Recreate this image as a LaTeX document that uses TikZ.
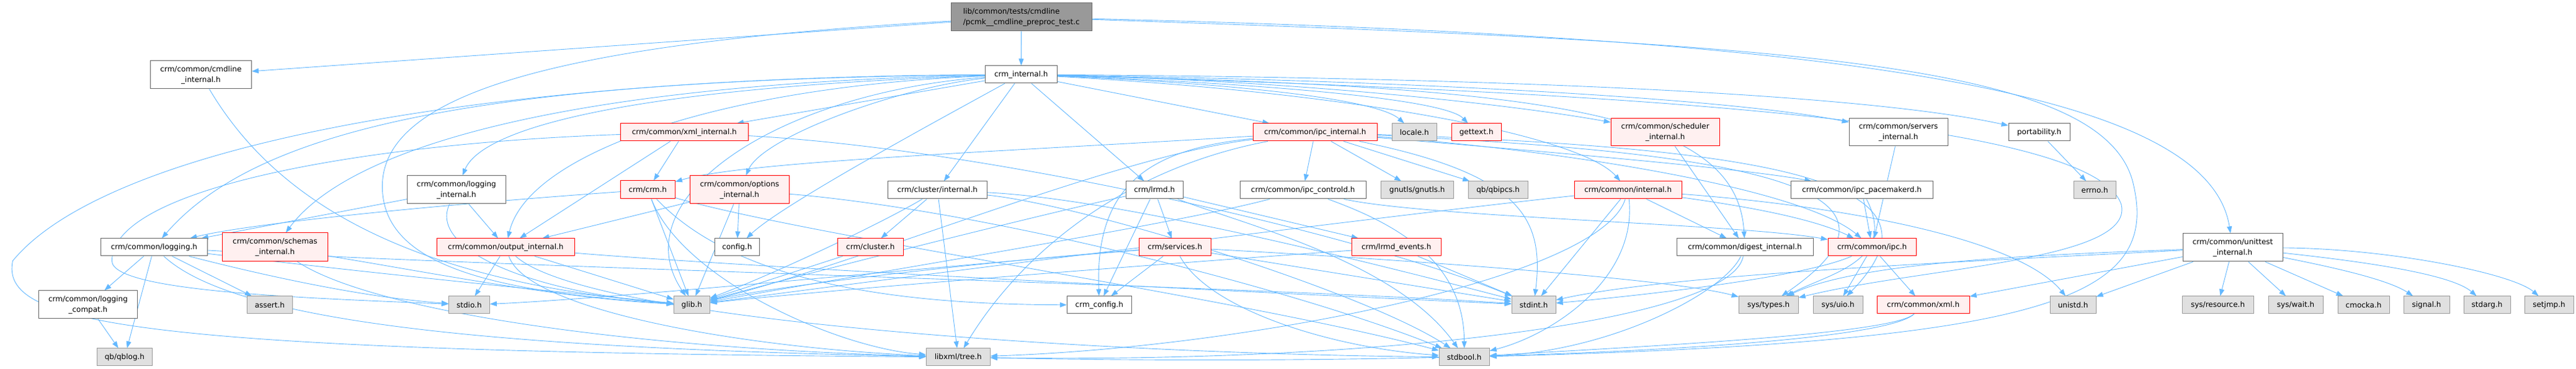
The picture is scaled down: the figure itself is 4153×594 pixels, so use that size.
\documentclass[tikz,border=0pt]{standalone}
\usepackage{fontspec}
\setmainfont{DejaVu Sans}
\usetikzlibrary{arrows.meta}
\pgfdeclarelayer{bg}
\pgfdeclarelayer{paper}
\pgfsetlayers{paper,bg,main}
\definecolor{edgec}{HTML}{63B8FF}
\definecolor{redfill}{HTML}{FFF0F0}
\definecolor{grayfill}{HTML}{E0E0E0}
\definecolor{grayline}{HTML}{999999}
\definecolor{normline}{HTML}{666666}
\tikzset{
  base/.style={rectangle, inner sep=1pt, align=center, font=\fontsize{12}{17}\selectfont, line width=1pt, text=black},
  nrm/.style={base, draw=normline, fill=white},
  hot/.style={base, draw=red, fill=redfill},
  sys/.style={base, draw=grayline, fill=grayfill},
  root/.style={base, align=left, draw=normline, fill=grayline},
  e/.style={draw=edgec, line width=0.9pt, -{Triangle[length=11pt,width=8pt]}},
}
\newcommand{\nd}[7]{\node[#1, minimum width={(#5-(#3))*1pt}, minimum height={(#6-(#4))*1pt}] (#2) at ({(#3+#5)/2},{(#4+#6)/2}) {#7};}
\begin{document}
\begin{tikzpicture}[x=1pt,y=-1pt]
\begin{pgfonlayer}{paper}
\path[use as bounding box, fill=white] (0,0) rectangle (4153,594);
\end{pgfonlayer}
\nd{root}{T}{1533}{5}{1760}{50}{lib/common/tests/cmdline\\/pcmk\_\_cmdline\_preproc\_test.c}
\nd{nrm}{CI}{1588}{106}{1704}{134}{crm\_internal.h}
\nd{nrm}{CMD}{242}{98}{405}{143}{crm/common/cmdline\\\_internal.h}
\nd{nrm}{UT}{3519}{376}{3680}{421}{crm/common/unittest\\\_internal.h}
\nd{hot}{XMLI}{1000}{199}{1206}{227}{crm/common/xml\_internal.h}
\nd{nrm}{LOGI}{656}{283}{815}{328}{crm/common/logging\\\_internal.h}
\nd{hot}{CRM}{1000}{291}{1088}{320}{crm/crm.h}
\nd{hot}{OPTI}{1112}{283}{1272}{328}{crm/common/options\\\_internal.h}
\nd{nrm}{LOG}{162}{384}{334}{412}{crm/common/logging.h}
\nd{hot}{SCHEMA}{358}{375}{528}{421}{crm/common/schemas\\\_internal.h}
\nd{hot}{OUT}{704}{384}{926}{412}{crm/common/output\_internal.h}
\nd{nrm}{CONFIG}{1152}{384}{1224}{412}{config.h}
\nd{nrm}{LOGC}{62}{468}{221}{513}{crm/common/logging\\\_compat.h}
\nd{sys}{ASSERT}{398}{477}{471}{505}{assert.h}
\nd{sys}{STDIO}{723}{477}{789}{505}{stdio.h}
\nd{sys}{GLIB}{1086}{477}{1144}{505}{glib.h}
\nd{sys}{QBLOG}{156}{561}{245}{589}{qb/qblog.h}
\nd{nrm}{CLI}{1431}{292}{1591}{320}{crm/cluster/internal.h}
\nd{nrm}{LRMD}{1815}{292}{1907}{320}{crm/lrmd.h}
\nd{hot}{IPCI}{2020}{199}{2220}{227}{crm/common/ipc\_internal.h}
\nd{sys}{LOCALE}{2244}{199}{2316}{227}{locale.h}
\nd{hot}{GETTEXT}{2340}{199}{2420}{227}{gettext.h}
\nd{hot}{SCHED}{2597}{191}{2772}{235}{crm/common/scheduler\\\_internal.h}
\nd{nrm}{SERV}{2981}{191}{3140}{235}{crm/common/servers\\\_internal.h}
\nd{nrm}{PORT}{3238}{199}{3337}{227}{portability.h}
\nd{nrm}{IPCC}{1999}{292}{2202}{320}{crm/common/ipc\_controld.h}
\nd{sys}{GNUTLS}{2226}{292}{2343}{320}{gnutls/gnutls.h}
\nd{sys}{QBIPCS}{2367}{292}{2463}{320}{qb/qbipcs.h}
\nd{hot}{CINT}{2538}{292}{2711}{320}{crm/common/internal.h}
\nd{nrm}{IPCP}{2887}{292}{3116}{320}{crm/common/ipc\_pacemakerd.h}
\nd{sys}{ERRNO}{3343}{292}{3411}{320}{errno.h}
\nd{hot}{CLUSTER}{1350}{384}{1456}{412}{crm/cluster.h}
\nd{hot}{SERVICES}{1836}{384}{1952}{412}{crm/services.h}
\nd{hot}{LRMDE}{2179}{384}{2323}{412}{crm/lrmd\_events.h}
\nd{nrm}{DIGEST}{2703}{384}{2923}{412}{crm/common/digest\_internal.h}
\nd{hot}{IPC}{2947}{384}{3089}{412}{crm/common/ipc.h}
\nd{nrm}{CRMCFG}{1720}{477}{1824}{505}{crm\_config.h}
\nd{sys}{STDINT}{2437}{477}{2508}{505}{stdint.h}
\nd{sys}{SYSTYPES}{2803}{477}{2899}{505}{sys/types.h}
\nd{sys}{SYSUIO}{2923}{477}{3003}{505}{sys/uio.h}
\nd{hot}{XML}{3026}{477}{3175}{505}{crm/common/xml.h}
\nd{sys}{UNISTD}{3305}{477}{3379}{505}{unistd.h}
\nd{sys}{SYSRES}{3518}{477}{3633}{505}{sys/resource.h}
\nd{sys}{SYSWAIT}{3657}{477}{3745}{505}{sys/wait.h}
\nd{sys}{CMOCKA}{3769}{477}{3852}{505}{cmocka.h}
\nd{sys}{SIGNAL}{3875}{477}{3949}{505}{signal.h}
\nd{sys}{STDARG}{3972}{477}{4047}{505}{stdarg.h}
\nd{sys}{SETJMP}{4070}{477}{4149}{505}{setjmp.h}
\nd{sys}{LIBXML}{1493}{561}{1596}{589}{libxml/tree.h}
\nd{sys}{STDBOOL}{2320}{561}{2401}{589}{stdbool.h}
\begin{pgfonlayer}{bg}
% root
\draw[e] (T) -- (CI);
\draw[e] (T) -- (CMD);
\draw[e] (T) .. controls (3000,60) and (3560,150) .. (UT);
\draw[e] (T) .. controls (900,70) and (616,150) .. (616,300) .. controls (616,430) and (800,470) .. (GLIB);
\draw[e] (T) .. controls (2900,70) and (3400,100) .. (3440,300) .. controls (3480,480) and (3300,550) .. (STDBOOL);
\draw[e] (CMD) .. controls (430,300) and (620,450) .. (GLIB);
% crm_internal.h
\draw[e] (CI) .. controls (700,125) and (160,250) .. (20,420) .. controls (0,520) and (200,565) .. (LIBXML);
\draw[e] (CI) .. controls (800,128) and (420,200) .. (LOG);
\draw[e] (CI) .. controls (900,135) and (560,240) .. (SCHEMA);
\draw[e] (CI) .. controls (1050,140) and (780,200) .. (LOGI);
\draw[e] (CI) .. controls (1150,140) and (850,250) .. (OUT);
\draw[e] (CI) .. controls (1250,150) and (1000,320) .. (GLIB);
\draw[e] (CI) .. controls (1450,140) and (1230,220) .. (OPTI);
\draw[e] (CI) -- (XMLI);
\draw[e] (CI) .. controls (1500,200) and (1260,330) .. (CONFIG);
\draw[e] (CI) -- (CLI);
\draw[e] (CI) -- (LRMD);
\draw[e] (CI) -- (IPCI);
\draw[e] (CI) .. controls (2000,135) and (2220,160) .. (LOCALE);
\draw[e] (CI) .. controls (2050,135) and (2330,160) .. (GETTEXT);
\draw[e] (CI) .. controls (2100,130) and (2450,170) .. (SCHED);
\draw[e] (CI) .. controls (2300,130) and (2800,160) .. (SERV);
\draw[e] (CI) .. controls (2400,125) and (3000,150) .. (PORT);
\draw[e] (CI) .. controls (2200,150) and (2550,220) .. (CINT);
\draw[e] (CI) .. controls (2500,140) and (2800,180) .. (DIGEST);
\draw[e] (CI) .. controls (2700,150) and (3380,200) .. (3420,330) .. controls (3440,420) and (3100,430) .. (SYSTYPES);
% ipc_internal.h
\draw[e] (IPCI) -- (IPCC);
\draw[e] (IPCI) -- (GNUTLS);
\draw[e] (IPCI) -- (QBIPCS);
\draw[e] (IPCI) .. controls (2500,245) and (2800,270) .. (IPCP);
\draw[e] (IPCI) .. controls (2500,240) and (2900,300) .. (IPC);
\draw[e] (IPCI) .. controls (2450,280) and (2490,350) .. (STDINT);
\draw[e] (IPCI) .. controls (1850,240) and (1765,300) .. (CRMCFG);
\draw[e] (IPCI) .. controls (1800,250) and (1400,420) .. (GLIB);
\draw[e] (IPCI) .. controls (1820,270) and (1650,400) .. (LIBXML);
\draw[e] (IPCI) .. controls (1600,245) and (1200,260) .. (CRM);
\draw[e] (IPCI) .. controls (2900,240) and (3150,300) .. (SYSUIO);
\draw[e] (IPCI) .. controls (2800,245) and (3130,300) .. (SYSTYPES);
% crm/common/internal.h
\draw[e] (CINT) -- (DIGEST);
\draw[e] (CINT) -- (STDINT);
\draw[e] (CINT) .. controls (2640,450) and (2500,540) .. (STDBOOL);
\draw[e] (CINT) .. controls (2300,340) and (1500,440) .. (GLIB);
\draw[e] (CINT) .. controls (2580,450) and (2000,560) .. (LIBXML);
\draw[e] (CINT) .. controls (2950,330) and (3250,380) .. (UNISTD);
\draw[e] (CINT) .. controls (2800,330) and (2920,350) .. (IPC);
\draw[e] (SCHED) -- (DIGEST);
\draw[e] (SERV) -- (IPC);
\draw[e] (PORT) -- (ERRNO);
\draw[e] (IPCP) -- (IPC);
\draw[e] (IPCP) .. controls (3060,420) and (2950,440) .. (SYSTYPES);
\draw[e] (DIGEST) .. controls (2780,470) and (2600,565) .. (STDBOOL);
\draw[e] (DIGEST) .. controls (2790,520) and (2200,585) .. (LIBXML);
\draw[e] (IPC) .. controls (2900,450) and (2600,480) .. (STDINT);
\draw[e] (IPC) -- (SYSUIO);
\draw[e] (IPC) -- (XML);
\draw[e] (XML) .. controls (3050,540) and (2600,560) .. (STDBOOL);
\draw[e] (XML) .. controls (3030,560) and (2300,590) .. (LIBXML);
% unittest
\draw[e] (UT) .. controls (3300,410) and (3000,420) .. (SYSTYPES);
\draw[e] (UT) .. controls (3200,420) and (2700,440) .. (STDINT);
\draw[e] (UT) -- (XML);
\draw[e] (UT) -- (UNISTD);
\draw[e] (UT) -- (SYSRES);
\draw[e] (UT) -- (SYSWAIT);
\draw[e] (UT) -- (CMOCKA);
\draw[e] (UT) .. controls (3760,430) and (3850,450) .. (SIGNAL);
\draw[e] (UT) .. controls (3800,420) and (3950,440) .. (STDARG);
\draw[e] (UT) .. controls (3850,400) and (4050,440) .. (SETJMP);
% lrmd
\draw[e] (LRMD) -- (SERVICES);
\draw[e] (LRMD) -- (LRMDE);
\draw[e] (LRMD) -- (CRMCFG);
\draw[e] (LRMD) .. controls (1700,340) and (1300,440) .. (GLIB);
\draw[e] (LRMD) .. controls (2000,360) and (2250,420) .. (STDBOOL);
\draw[e] (SERVICES) .. controls (1600,420) and (1250,460) .. (GLIB);
\draw[e] (SERVICES) .. controls (1500,430) and (1000,480) .. (STDIO);
\draw[e] (SERVICES) -- (CRMCFG);
\draw[e] (SERVICES) -- (STDINT);
\draw[e] (SERVICES) .. controls (1950,500) and (2150,560) .. (STDBOOL);
\draw[e] (SERVICES) .. controls (2300,420) and (2700,450) .. (SYSTYPES);
\draw[e] (LRMDE) .. controls (1800,430) and (1300,470) .. (GLIB);
\draw[e] (LRMDE) -- (STDINT);
% cluster
\draw[e] (CLI) -- (CLUSTER);
\draw[e] (CLI) -- (LIBXML);
\draw[e] (CLI) .. controls (1420,360) and (1250,440) .. (GLIB);
\draw[e] (CLI) .. controls (1800,320) and (2200,420) .. (STDINT);
\draw[e] (CLI) .. controls (1750,330) and (2200,470) .. (STDBOOL);
\draw[e] (CLUSTER) -- (GLIB);
% crm.h
\draw[e] (CRM) .. controls (700,330) and (400,360) .. (LOG);
\draw[e] (CRM) -- (GLIB);
\draw[e] (CRM) .. controls (1200,470) and (1500,490) .. (CRMCFG);
\draw[e] (CRM) .. controls (1100,450) and (1350,560) .. (LIBXML);
\draw[e] (CRM) .. controls (1300,380) and (2000,480) .. (STDBOOL);
% options
\draw[e] (OPTI) -- (CONFIG);
\draw[e] (OPTI) -- (GLIB);
\draw[e] (OPTI) -- (OUT);
\draw[e] (OPTI) .. controls (1600,340) and (2100,470) .. (STDBOOL);
% xml_internal
\draw[e] (XMLI) -- (CRM);
\draw[e] (XMLI) -- (OUT);
\draw[e] (XMLI) .. controls (600,230) and (180,300) .. (180,420) .. controls (180,470) and (500,480) .. (STDIO);
\draw[e] (XMLI) .. controls (1600,240) and (2200,380) .. (STDINT);
% logging_internal
\draw[e] (LOGI) -- (LOG);
\draw[e] (LOGI) -- (OUT);
\draw[e] (LOGI) .. controls (690,400) and (850,470) .. (GLIB);
% logging
\draw[e] (LOG) -- (LOGC);
\draw[e] (LOG) -- (QBLOG);
\draw[e] (LOG) -- (ASSERT);
\draw[e] (LOG) .. controls (450,450) and (600,480) .. (STDIO);
\draw[e] (LOG) .. controls (600,440) and (900,470) .. (GLIB);
\draw[e] (LOG) .. controls (800,430) and (2000,460) .. (STDINT);
\draw[e] (LOG) .. controls (380,520) and (800,560) .. (LIBXML);
\draw[e] (LOGC) -- (QBLOG);
% schemas
\draw[e] (SCHEMA) .. controls (700,440) and (900,480) .. (GLIB);
\draw[e] (SCHEMA) .. controls (600,500) and (1000,560) .. (LIBXML);
% output
\draw[e] (OUT) -- (STDIO);
\draw[e] (OUT) -- (GLIB);
\draw[e] (OUT) .. controls (850,500) and (1200,560) .. (LIBXML);
\draw[e] (OUT) .. controls (950,520) and (1800,570) .. (STDBOOL);
\draw[e] (OUT) .. controls (1200,430) and (2000,470) .. (STDINT);
% ipc_controld
\draw[e] (IPCC) .. controls (2300,350) and (2800,360) .. (IPC);
\draw[e] (IPCC) .. controls (2250,360) and (2360,420) .. (STDBOOL);
\draw[e] (IPCC) .. controls (1900,360) and (1400,440) .. (GLIB);
\end{pgfonlayer}
\end{tikzpicture}
\end{document}
